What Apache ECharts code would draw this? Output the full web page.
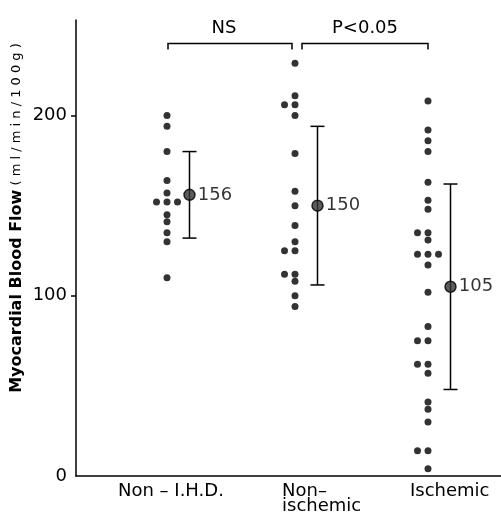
<!DOCTYPE html>
<html><head><meta charset="utf-8">
<script src="https://cdn.jsdelivr.net/npm/echarts@6/dist/echarts.min.js"></script>
<style>html,body{margin:0;padding:0;background:#fff}#c{width:501px;height:516px}</style>
</head><body><div id="c"></div>
<script>
// ---- data ----
const categories = ['Non \u2013 I.H.D.', 'Non\u2013\nischemic', 'Ischemic'];
const nonIHD = [200, 194, 180, 164, 157, 152, 152, 152, 145, 141, 135, 130, 110];
const nonIschemic = [229, 211, 206, 206, 200, 179, 158, 150, 139, 130, 125, 125, 112, 112, 108, 100, 94];
const ischemic = [208, 192, 186, 180, 163, 153, 148, 135, 135, 131, 123, 123, 123, 117, 102, 83, 75, 75, 62, 62, 57, 41, 37, 30, 14, 14, 4];
const means = [156, 150, 105];
const sds = [24, 44, 57];
const yTicks = [0, 100, 200];
const comparisons = [['NS', 0, 1], ['P<0.05', 1, 2]];

// ---- layout (not data) ----
const groupX = [0.91, 2.19, 3.52];
const labelX = [0.42, 2.06, 3.34];
const DOT_STEP = 0.105, MEAN_OFFSET = 0.225, BRACKET_Y = 240;
const FONT = 'DejaVu Sans';
const INK = '#000';

function dots(values, gx) {
  const counts = {}; values.forEach(v => counts[v] = (counts[v] || 0) + 1);
  const seen = {};
  return values.map(v => {
    const k = seen[v] || 0; seen[v] = k + 1;
    const off = k - Math.floor(counts[v] / 2);
    return [gx + off * DOT_STEP, v];
  });
}
const groups = [nonIHD, nonIschemic, ischemic];
const dotSeries = groups.map((vals, i) => ({
  type: 'scatter', data: dots(vals, groupX[i]), symbolSize: 7,
  itemStyle: { color: INK }, silent: true, z: 3
}));

const chart = echarts.init(document.getElementById('c'), null, { renderer: 'canvas' });
chart.setOption({
  animation: false,
  backgroundColor: '#fff',
  grid: { left: 76, right: 0, top: 20, bottom: 40, containLabel: false },
  xAxis: {
    type: 'value', min: 0, max: 4.25,
    splitLine: { show: false },
    axisLine: { show: true, lineStyle: { color: INK, width: 1.5 } },
    axisTick: { show: false },
    axisLabel: {
      customValues: labelX, align: 'left', margin: 8,
      fontFamily: FONT, fontSize: 18, lineHeight: 15, color: INK,
      formatter: (v) => { const i = labelX.findIndex(x => Math.abs(x - v) < 1e-6); return i >= 0 ? categories[i] : ''; }
    }
  },
  yAxis: {
    type: 'value', min: 0, max: 253,
    splitLine: { show: false },
    axisLine: { show: true, lineStyle: { color: INK, width: 1.5 } },
    axisTick: { show: true, length: 5, customValues: yTicks.filter(v => v > 0), lineStyle: { color: INK, width: 1.5 } },
    axisLabel: { customValues: yTicks, margin: 9, fontFamily: FONT, fontSize: 18, color: INK }
  },
  graphic: [{
    type: 'text', x: 17, y: 218, rotation: Math.PI / 2,
    style: {
      text: '{a|Myocardial Blood Flow}{b| ( m l / m i n / 1 0 0 g )}',
      align: 'center', verticalAlign: 'middle',
      rich: {
        a: { fontFamily: FONT, fontWeight: 'bold', fontSize: 16, fill: INK },
        b: { fontFamily: FONT, fontSize: 13, fill: INK }
      }
    }
  }],
  series: [
    ...dotSeries,
    {
      type: 'custom', z: 4, silent: true,
      data: means.map((m, i) => [groupX[i] + MEAN_OFFSET, m - sds[i], m + sds[i]]),
      renderItem: (params, api) => {
        const x = api.value(0);
        const t = api.coord([x, api.value(2)]), b = api.coord([x, api.value(1)]);
        const w = 7, st = { stroke: INK, lineWidth: 1.5 };
        return { type: 'group', children: [
          { type: 'line', shape: { x1: t[0], y1: t[1], x2: b[0], y2: b[1] }, style: st },
          { type: 'line', shape: { x1: t[0] - w, y1: t[1], x2: t[0] + w, y2: t[1] }, style: st },
          { type: 'line', shape: { x1: b[0] - w, y1: b[1], x2: b[0] + w, y2: b[1] }, style: st }
        ]};
      }
    },
    {
      type: 'scatter', z: 5, silent: true, symbolSize: 11,
      data: means.map((m, i) => [groupX[i] + MEAN_OFFSET, m]),
      itemStyle: { color: '#333', borderColor: INK, borderWidth: 1.5 },
      label: { show: true, position: 'right', distance: 2, formatter: p => String(p.value[1]),
        fontFamily: FONT, fontSize: 18, color: INK }
    },
    {
      type: 'custom', z: 4, silent: true,
      data: comparisons.map(c => [groupX[c[1]] + (c[1] > 0 ? 0.07 : 0.01), groupX[c[2]] - (c[2] === 1 ? 0.03 : 0), BRACKET_Y]),
      renderItem: (params, api) => {
        const a = api.coord([api.value(0), api.value(2)]);
        const b = api.coord([api.value(1), api.value(2)]);
        const leg = 6;
        return { type: 'group', children: [
          { type: 'polyline', shape: { points: [[a[0], a[1] + leg], a, b, [b[0], b[1] + leg]] },
            style: { stroke: INK, lineWidth: 1.5, fill: null } },
          { type: 'text', x: (a[0] + b[0]) / 2 - (params.dataIndex === 0 ? 6 : 0), y: a[1] - 6,
            style: { text: comparisons[params.dataIndex][0], align: 'center', verticalAlign: 'bottom',
              fontFamily: FONT, fontSize: 18, fill: INK } }
        ]};
      }
    }
  ]
});
</script></body></html>
